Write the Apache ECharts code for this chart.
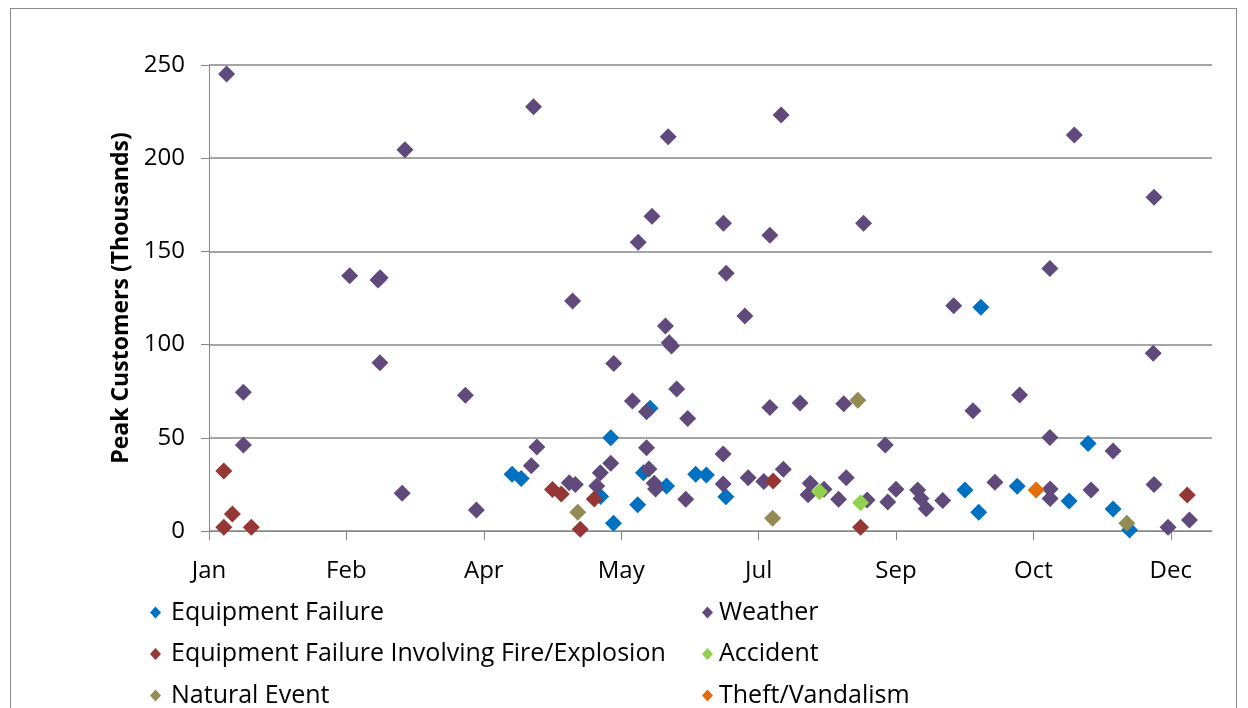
<!DOCTYPE html>
<html>
<head>
<meta charset="utf-8">
<script src="https://cdn.jsdelivr.net/npm/echarts@6/dist/echarts.min.js"></script>
<style>
  html, body { margin: 0; padding: 0; background: #fff; }
  #frame { position: absolute; left: 10px; top: 8px; width: 1227px; height: 720px; border: 1px solid #8c8c8c; box-sizing: border-box; }
  #chart { width: 1248px; height: 708px; position: absolute; left: 0; top: 0; }
</style>
</head>
<body>
<div id="frame"></div>
<div id="chart"></div>
<script>
// x = days from Jan 1, y = peak customers (thousands)
const equipmentFailure = [
  [110.3, 30.4], [113.6, 28.1], [142.5, 18.5], [146.2, 50], [147.2, 4.1], [156, 14.1],
  [158.1, 31.3], [160.5, 65.8], [166.5, 24.1], [177.1, 30.4], [181, 30.1], [188.1, 18.4],
  [275.1, 22], [280.1, 10], [280.9, 120], [294.1, 24], [313, 16.1], [319.9, 47],
  [329, 11.8], [335, 0.5]
]
const weather = [
  [6.4, 245.2], [12.5, 74.4], [12.5, 46.1], [51.2, 137], [61.5, 134.7], [62.3, 135.8],
  [62.2, 90.3], [70.3, 20.2], [71.3, 204.6], [93.3, 72.8], [97.3, 11.3], [117.3, 35],
  [119.3, 45], [118.1, 227.6], [131.1, 25.9], [133.3, 25], [132.3, 123.4], [141.1, 24.1],
  [142.4, 31.3], [146.2, 36.3], [147.3, 89.8], [154.1, 69.7], [156.2, 154.9], [159.2, 64],
  [159.2, 44.7], [160.1, 33.3], [161.2, 168.8], [162, 25.6], [162.5, 22.5], [166.1, 110],
  [167.1, 211.5], [167.5, 101], [168.3, 99.3], [170.2, 76.2], [173.5, 17], [174.2, 60.3],
  [187.1, 41.3], [187.1, 25.2], [187.2, 165.1], [188.2, 138.3], [195, 115.3], [196.2, 28.6],
  [201.9, 26.5], [204.1, 66.2], [204.1, 158.6], [208.2, 223.2], [209, 33.1], [215.1, 68.7],
  [218, 19.5], [218.8, 25.6], [223.8, 22.4], [229.1, 17], [231, 68.3], [231.9, 28.6],
  [238.2, 165.1], [239.5, 16.6], [246.1, 46.1], [247, 15.6], [250, 22.4], [257.9, 22],
  [259.1, 17.5], [261, 12], [267, 16.3], [271, 120.9], [278, 64.5], [286, 26.1],
  [295, 73], [306, 140.8], [306, 50.1], [306.1, 22.5], [306.1, 17.5], [314.9, 212.4],
  [321, 22], [329, 42.9], [343.6, 95.3], [343.9, 179], [343.9, 25], [349, 2], [356.8, 5.9]
]
const fireExplosion = [
  [5.4, 32.2], [5.4, 2], [8.5, 9.1], [15.4, 2], [125, 22.3], [128.2, 19.8],
  [135.1, 0.9], [140.2, 17.2], [205.3, 26.8], [237.1, 2], [356, 19.3]
]
const accident = [[222.2, 21.1], [237.1, 15.2]]
const naturalEvent = [[134.2, 10], [205.1, 6.8], [236.1, 70.1], [334, 4.1]]
const theftVandalism = [[301, 22]]

const monthNames = ['Jan', 'Feb', 'Mar', 'Apr', 'May', 'Jun', 'Jul', 'Aug', 'Sep', 'Oct', 'Nov', 'Dec']
const font = '"Open Sans", "Noto Sans", sans-serif'
const gridColor = '#878787'

const mkSeries = (name, data, color) => ({
  name: name,
  type: 'scatter',
  symbol: 'diamond',
  symbolSize: 17,
  itemStyle: { color: color, opacity: 1 },
  data: data,
})

const legendText = { fontFamily: font, fontSize: 25, color: '#000', lineHeight: 25 }

let chart = echarts.init(document.getElementById('chart'))
chart.setOption({
  animation: false,
  grid: { left: 209, right: 36, top: 65, bottom: 177 },
  legend: [
    {
      orient: 'vertical',
      left: 150,
      top: 600,
      height: 120,
      padding: 0,
      icon: 'diamond',
      itemWidth: 11,
      itemHeight: 12,
      itemGap: 16.5,
      textStyle: Object.assign({ padding: [0, 0, 0, 5] }, legendText),
      data: ['Equipment Failure', 'Equipment Failure Involving Fire/Explosion', 'Natural Event'],
    },
    {
      orient: 'vertical',
      left: 702,
      top: 600,
      height: 120,
      padding: 0,
      icon: 'diamond',
      itemWidth: 11,
      itemHeight: 12,
      itemGap: 16.5,
      textStyle: Object.assign({ padding: [0, 0, 0, 1] }, legendText),
      data: ['Weather', 'Accident', 'Theft/Vandalism'],
    },
  ],
  xAxis: {
    type: 'value',
    min: 0,
    max: 365,
    interval: 50,
    axisLine: { show: true, onZero: false, lineStyle: { color: gridColor, width: 1 } },
    axisTick: { show: true, inside: false, length: 9, lineStyle: { color: gridColor } },
    splitLine: { show: false },
    axisLabel: {
      showMaxLabel: false,
      margin: 28,
      fontFamily: font,
      fontSize: 24,
      color: '#000',
      formatter: (v) => monthNames[new Date(2011, 0, 1 + v).getMonth()],
    },
  },
  yAxis: {
    type: 'value',
    min: 0,
    max: 250,
    interval: 50,
    name: 'Peak Customers (Thousands)',
    nameLocation: 'middle',
    nameGap: 72,
    nameTextStyle: { fontFamily: font, fontSize: 23, fontWeight: 'bold', color: '#000' },
    axisLine: { show: true, lineStyle: { color: gridColor, width: 1 } },
    axisTick: { show: true, inside: false, length: 8, lineStyle: { color: gridColor } },
    splitLine: { show: true, lineStyle: { color: gridColor, width: 1.5 } },
    axisLabel: { margin: 24, fontFamily: font, fontSize: 24, color: '#000' },
  },
  series: [
    mkSeries('Equipment Failure', equipmentFailure, '#0070C0'),
    mkSeries('Weather', weather, '#604A7B'),
    mkSeries('Equipment Failure Involving Fire/Explosion', fireExplosion, '#953735'),
    mkSeries('Accident', accident, '#92D050'),
    mkSeries('Natural Event', naturalEvent, '#948A54'),
    mkSeries('Theft/Vandalism', theftVandalism, '#E46C0A'),
  ],
})
</script>
</body>
</html>
